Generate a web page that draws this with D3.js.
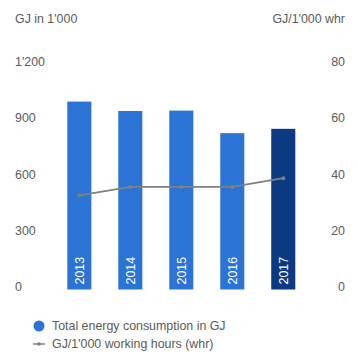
<!DOCTYPE html>
<html><head><meta charset="utf-8">
<script src="https://cdn.jsdelivr.net/npm/d3@7"></script>
<style>body{margin:0;background:#fff}svg{display:block}text{font-family:"Liberation Sans",Arial,sans-serif}</style>
</head><body>
<script>
const years = ["2013","2014","2015","2016","2017"];
const energy = [1000, 950, 952, 832, 855];
const intensity = [33.4, 36.4, 36.4, 36.4, 39.5];
const leftTicks = [0, 300, 600, 900, 1200];
const leftTickLabels = ["0","300","600","900","1'200"];
const rightTicks = [0, 20, 40, 60, 80];
const legendLabels = ["Total energy consumption in GJ", "GJ/1'000 working hours (whr)"];

const W = 358, H = 352;
const svg = d3.select("body").append("svg").attr("width", W).attr("height", H);
const textCol = "#5a5a5a";
const fs = 12.4;

const x = d3.scaleBand().domain(years).range([67.3, 295.3]).paddingInner(0.528).paddingOuter(0);
const yL = d3.scaleLinear().domain([0, 1200]).range([289.5, 64]);
const yR = d3.scaleLinear().domain([0, 80]).range([289.5, 64]);

svg.append("text").attr("x", 15).attr("y", 23).attr("font-size", fs).attr("fill", textCol).text("GJ in 1'000");
svg.append("text").attr("x", 345).attr("y", 23).attr("font-size", fs).attr("fill", textCol).attr("text-anchor", "end").text("GJ/1'000 whr");

const gl = svg.append("g");
leftTicks.forEach((t, i) => {
  gl.append("text").attr("x", 15).attr("y", yL(t) - 2.5).attr("dy", "0.35em")
    .attr("font-size", fs).attr("fill", textCol).text(leftTickLabels[i]);
});
rightTicks.forEach(t => {
  gl.append("text").attr("x", 345).attr("y", yR(t) - 2.5).attr("dy", "0.35em")
    .attr("text-anchor", "end").attr("font-size", fs).attr("fill", textCol).text(t);
});

svg.selectAll("rect.bar").data(years).join("rect").attr("class", "bar")
  .attr("x", d => x(d)).attr("width", x.bandwidth())
  .attr("y", (d, i) => yL(energy[i])).attr("height", (d, i) => yL(0) - yL(energy[i]))
  .attr("fill", (d, i) => i === years.length - 1 ? "#0c3a82" : "#2b74d6");

svg.selectAll("text.yr").data(years).join("text").attr("class", "yr")
  .attr("transform", d => `translate(${x(d) + x.bandwidth() / 2 + 4.5},${yL(0) - 5}) rotate(-90)`)
  .attr("font-size", fs).attr("fill", "#fff").text(d => d);

const line = d3.line().x((d, i) => x(years[i]) + x.bandwidth() / 2).y(d => yR(d));
svg.append("path").datum(intensity).attr("d", line).attr("fill", "none")
  .attr("stroke", "#808080").attr("stroke-width", 1.6);
svg.selectAll("circle.pt").data(intensity).join("circle").attr("class", "pt")
  .attr("cx", (d, i) => x(years[i]) + x.bandwidth() / 2).attr("cy", d => yR(d))
  .attr("r", 2).attr("fill", "#808080");

// legend
svg.append("circle").attr("cx", 39).attr("cy", 326).attr("r", 5.5).attr("fill", "#2b74d6");
svg.append("text").attr("x", 52).attr("y", 326).attr("dy", "0.35em").attr("font-size", fs).attr("fill", textCol).text(legendLabels[0]);
svg.append("line").attr("x1", 33).attr("x2", 45).attr("y1", 344).attr("y2", 344).attr("stroke", "#808080").attr("stroke-width", 1.5);
svg.append("circle").attr("cx", 39).attr("cy", 344).attr("r", 1.8).attr("fill", "#808080");
svg.append("text").attr("x", 52).attr("y", 344).attr("dy", "0.35em").attr("font-size", fs).attr("fill", textCol).text(legendLabels[1]);
</script>
</body></html>
